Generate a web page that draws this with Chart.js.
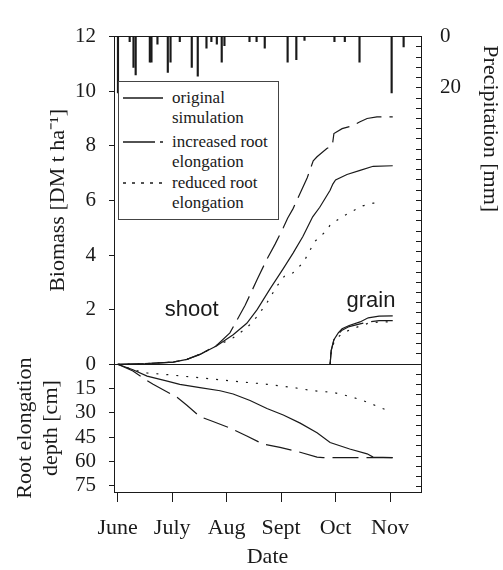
<!DOCTYPE html>
<html>
<head>
<meta charset="utf-8">
<script src="https://cdn.jsdelivr.net/npm/chart.js@4.4.1/dist/chart.umd.min.js"></script>
<style>
  html, body { margin: 0; padding: 0; background: #fff; }
  #wrap { position: relative; width: 503px; height: 570px; }
  #legend { position: absolute; left: 118px; top: 81px; width: 161px; height: 139px; box-sizing: border-box;
            border: 1px solid #444; background: #fff; font-family: "Liberation Serif", "Times New Roman", serif;
            font-size: 17px; color: #1a1a1a; }
  #legend .t { position: absolute; left: 53px; line-height: 20px; white-space: nowrap; }
  #legend svg { position: absolute; left: 4px; }
</style>
</head>
<body>
<div id="wrap">
  <canvas id="c" width="503" height="570"></canvas>
  <div id="legend">
    <svg style="top:15px" width="40" height="2"><line x1="0" y1="1" x2="40" y2="1" stroke="#1a1a1a" stroke-width="1.3"/></svg>
    <div class="t" style="top:6px">original<br>simulation</div>
    <svg style="top:59px" width="40" height="2"><line x1="0" y1="1" x2="40" y2="1" stroke="#1a1a1a" stroke-width="1.3" stroke-dasharray="32 5"/></svg>
    <div class="t" style="top:50px">increased root<br>elongation</div>
    <svg style="top:100px" width="40" height="2"><line x1="0" y1="1" x2="40" y2="1" stroke="#1a1a1a" stroke-width="1.3" stroke-dasharray="3 6"/></svg>
    <div class="t" style="top:91px">reduced root<br>elongation</div>
  </div>
</div>
<script>
// ---------- tick labels ----------
const monthNames = ['June', 'July', 'Aug', 'Sept', 'Oct', 'Nov'];   // month index 0..5
const precipLabelledTicks = [0, 20];

// ---------- shoot biomass [DM t/ha], x = months after 1 June ----------
const origShootMonth = [0, 0.5, 1.02, 1.27, 1.51, 1.82, 2.12, 2.37, 2.56, 2.80, 3.04, 3.22, 3.40, 3.58, 3.71, 3.90, 3.95, 4.0, 4.21, 4.45, 4.69, 5.05];
const origShootBiomass = [0, 0.02, 0.08, 0.18, 0.36, 0.68, 1.08, 1.5, 2.0, 2.77, 3.5, 4.07, 4.68, 5.4, 5.75, 6.37, 6.6, 6.75, 6.95, 7.1, 7.25, 7.27];

const incShootMonth = [0, 0.5, 1.02, 1.27, 1.51, 1.82, 2.06, 2.34, 2.56, 2.74, 2.89, 3.04, 3.12, 3.22, 3.29, 3.48, 3.59, 3.66, 3.84, 3.94, 3.97, 4.12, 4.32, 4.45, 4.58, 4.76, 5.05];
const incShootBiomass = [0, 0.02, 0.08, 0.18, 0.36, 0.7, 1.15, 2.16, 3.1, 3.85, 4.4, 5.0, 5.35, 5.7, 6.0, 6.83, 7.45, 7.6, 7.9, 8.0, 8.45, 8.63, 8.74, 8.88, 9.0, 9.06, 9.06];

const redShootMonth = [0, 0.5, 1.02, 1.27, 1.51, 1.82, 2.0, 2.12, 2.37, 2.56, 2.74, 2.92, 3.07, 3.22, 3.41, 3.62, 3.84, 3.90, 4.12, 4.32, 4.50, 4.69, 4.85];
const redShootBiomass = [0, 0.02, 0.08, 0.18, 0.36, 0.68, 0.85, 0.97, 1.33, 1.75, 2.25, 2.85, 3.25, 3.35, 3.73, 4.5, 4.9, 5.1, 5.4, 5.62, 5.8, 5.9, 5.9];

// ---------- grain biomass ----------
const grainMonth = [3.90, 3.92, 3.97, 4.05, 4.12, 4.25, 4.45, 4.60, 4.80, 5.05];
const origGrain = [0, 0.5, 0.9, 1.15, 1.3, 1.42, 1.55, 1.7, 1.76, 1.77];
const incGrain  = [0, 0.5, 0.9, 1.1, 1.25, 1.38, 1.48, 1.55, 1.6, 1.6];
const redGrain  = [0, 0.45, 0.8, 1.0, 1.12, 1.25, 1.4, 1.5, 1.55, 1.55];

// ---------- root elongation depth [cm] ----------
const origRootMonth = [0, 0.28, 0.54, 0.91, 1.14, 1.51, 1.88, 2.12, 2.43, 2.74, 3.04, 3.35, 3.66, 3.90, 4.26, 4.58, 4.69, 5.05];
const origRootDepth = [0, 3.4, 7.3, 10.4, 12.4, 14.4, 16.4, 18.4, 22.4, 27.4, 31.4, 36.4, 42.4, 48.4, 52.4, 55.4, 57.4, 57.8];

const incRootMonth = [0, 0.28, 0.46, 0.65, 1.09, 1.27, 1.51, 1.75, 2.06, 2.37, 2.67, 2.98, 3.35, 3.66, 3.77, 5.05];
const incRootDepth = [0, 4.2, 8.4, 12.4, 20.4, 25.4, 32.4, 35.4, 39.4, 44.4, 49.4, 51.4, 54.4, 57.4, 57.8, 57.8];

const redRootMonth = [0, 0.28, 0.54, 0.91, 1.51, 2.12, 2.74, 3.22, 3.59, 3.96, 4.32, 4.58, 4.94];
const redRootDepth = [0, 3.4, 5.4, 6.4, 8.4, 10.4, 12.4, 14.4, 16.4, 17.4, 20.4, 23.4, 28.4];

// ---------- daily precipitation [mm] ----------
const precipMonth = [0.005, 0.22, 0.29, 0.33, 0.59, 0.62, 0.73, 0.92, 0.97, 1.14, 1.36, 1.47, 1.63, 1.72, 1.82, 1.91, 1.96, 2.42, 2.55, 2.70, 3.12, 3.28, 3.43, 3.98, 4.17, 4.44, 5.03, 5.25];
const precipMm = [22, 2, 12, 15, 10, 10, 3, 14, 10, 2, 12, 15.5, 4.5, 2, 3, 10, 3.5, 2, 2, 4.5, 10, 9, 1.5, 2, 2, 10, 22, 4];

// ---------- build ----------
const INK = '#1a1a1a';
const SERIF = '"Liberation Serif", "Times New Roman", serif';
const pts = (xs, ys) => xs.map((x, i) => ({x: x, y: ys[i]}));
const DASH_INC = [26, 8];
const DASH_RED = [2, 8];
function line(label, data, axis, dash) {
  return { type: 'line', label: label, data: data, xAxisID: 'x', yAxisID: axis,
           borderColor: INK, borderWidth: 1.2, borderDash: dash, pointRadius: 0,
           fill: false, tension: 0 };
}

const curveLabels = {
  id: 'curveLabels',
  afterDatasetsDraw(chart, args, opts) {
    const ctx = chart.ctx, x = chart.scales.x, y = chart.scales.yB;
    ctx.save();
    ctx.font = '22px "Liberation Sans", Arial, sans-serif';
    ctx.fillStyle = INK;
    ctx.textAlign = 'center';
    ctx.textBaseline = 'alphabetic';
    opts.items.forEach(it => ctx.fillText(it.text, x.getPixelForValue(it.x), y.getPixelForValue(it.y)));
    ctx.restore();
  }
};

const X_MIN = -0.068, X_MAX = 5.569;
const tickFont = { family: SERIF, size: 21 };
const titleFont = { family: SERIF, size: 22 };

new Chart(document.getElementById('c'), {
  type: 'line',
  data: {
    datasets: [
      { type: 'bar', label: 'Precipitation', data: pts(precipMonth, precipMm), xAxisID: 'x', yAxisID: 'yP',
        backgroundColor: INK, borderWidth: 0, barThickness: 1.5 },
      line('original simulation', pts(origShootMonth, origShootBiomass), 'yB', []),
      line('increased root elongation', pts(incShootMonth, incShootBiomass), 'yB', DASH_INC),
      line('reduced root elongation', pts(redShootMonth, redShootBiomass), 'yB', DASH_RED),
      line('grain original', pts(grainMonth, origGrain), 'yB', []),
      line('grain increased', pts(grainMonth, incGrain), 'yB', DASH_INC),
      line('grain reduced', pts(grainMonth, redGrain), 'yB', DASH_RED),
      line('root original', pts(origRootMonth, origRootDepth), 'yR', []),
      line('root increased', pts(incRootMonth, incRootDepth), 'yR', DASH_INC),
      line('root reduced', pts(redRootMonth, redRootDepth), 'yR', DASH_RED)
    ]
  },
  options: {
    responsive: false,
    devicePixelRatio: 1,
    animation: false,
    events: [],
    layout: { padding: 0 },
    plugins: {
      legend: { display: false },
      tooltip: { enabled: false },
      curveLabels: { items: [ { text: 'shoot', x: 1.36, y: 1.75 }, { text: 'grain', x: 4.65, y: 2.1 } ] }
    },
    scales: {
      x: {
        type: 'linear', position: 'bottom', min: X_MIN, max: X_MAX, offset: false,
        ticks: { stepSize: 1, includeBounds: false, autoSkip: false, maxRotation: 0, padding: 12.8,
                 font: { family: SERIF, size: 22 }, color: INK,
                 callback: v => monthNames[v] !== undefined ? monthNames[v] : '' },
        grid: { offset: false, drawOnChartArea: false, tickLength: 10, color: INK, lineWidth: 1 },
        border: { display: true, color: INK, width: 1 },
        title: { display: true, text: 'Date', font: titleFont, color: INK, padding: { top: 0, bottom: 0 } },
        afterFit: s => { s.height = 78; }
      },
      xTop: {
        type: 'linear', position: 'top', min: X_MIN, max: X_MAX, offset: false,
        ticks: { display: false },
        grid: { offset: false, drawOnChartArea: false, drawTicks: false },
        border: { display: true, color: INK, width: 1 },
        afterFit: s => { s.height = 25; }
      },
      yR: {
        type: 'linear', position: 'left', stack: 'left', stackWeight: 131,
        min: 0, max: 79, reverse: true,
        ticks: { stepSize: 15, includeBounds: false, autoSkip: false, padding: 13, font: tickFont, color: INK,
                 callback: v => v === 0 ? '' : v },
        grid: { drawOnChartArea: false, tickLength: 5, color: INK },
        border: { display: true, color: INK, width: 1 },
        title: { display: true, text: ['Root elongation', 'depth [cm]'], font: titleFont, color: INK,
                 padding: { top: 11.8, bottom: 0 } },
        afterFit: s => { s.width = 114; }
      },
      yB: {
        type: 'linear', position: 'left', stack: 'left', stackWeight: 336,
        min: 0, max: 12,
        ticks: { stepSize: 2, includeBounds: false, autoSkip: false, padding: 13, font: tickFont, color: INK },
        grid: { drawOnChartArea: true, tickLength: 5, tickColor: INK,
                color: c => (c.tick && c.tick.value === 0) ? INK : 'rgba(0,0,0,0)' },
        border: { display: true, color: INK, width: 1 },
        title: { display: true, text: 'Biomass [DM t ha⁻¹]', font: titleFont, color: INK,
                 padding: { top: 44.8, bottom: 0 } },
        afterFit: s => { s.width = 114; }
      },
      yP: {
        type: 'linear', position: 'right', stack: 'right', stackWeight: 189,
        min: 0, max: 72, reverse: true, beginAtZero: true,
        ticks: { stepSize: 4, includeBounds: false, autoSkip: false, padding: 24, font: tickFont, color: INK,
                 callback: v => precipLabelledTicks.includes(v) ? v : '' },
        grid: { drawOnChartArea: false, tickLength: -5, color: INK },
        border: { display: true, color: INK, width: 1 },
        title: { display: true, text: 'Precipitation [mm]', font: titleFont, color: INK,
                 padding: { top: 0, bottom: 0 } },
        afterFit: s => { s.width = 82; }
      },
      yP2: {
        type: 'linear', position: 'right', stack: 'right', stackWeight: 278,
        min: 72, max: 178, reverse: true,
        ticks: { stepSize: 4, includeBounds: false, autoSkip: false, display: false },
        grid: { drawOnChartArea: false, tickLength: -5, color: INK },
        border: { display: true, color: INK, width: 1 },
        afterFit: s => { s.width = 82; }
      }
    }
  },
  plugins: [curveLabels]
});
</script>
</body>
</html>
